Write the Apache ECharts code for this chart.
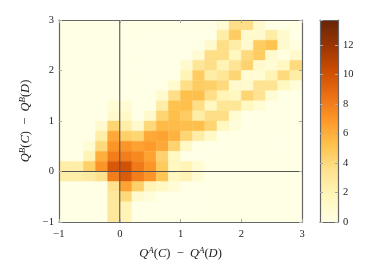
<!DOCTYPE html>
<html><head><meta charset="utf-8">
<style>html,body{margin:0;padding:0;background:#fff}#c{width:371px;height:275px}</style>
<script src="https://cdn.jsdelivr.net/npm/echarts@6/dist/echarts.min.js"></script>
</head><body><div id="c"></div>
<script>
// Lower-left corners of the bins
const xBins = [-1,-0.8,-0.6,-0.4,-0.2,0,0.2,0.4,0.6,0.8,1,1.2,1.4,1.6,1.8,2,2.2,2.4,2.6,2.8];
const yBins = [2.8,2.6,2.4,2.2,2,1.8,1.6,1.4,1.2,1,0.8,0.6,0.4,0.2,0,-0.2,-0.4,-0.6,-0.8,-1];
// One row per yBins entry, top to bottom
const counts = [
 [0,0,0,0,0,0,0,0,0,0, 0,0,0,0.8,3.7,3.7,1,0,0,0],
 [0,0,0,0,0,0,0,0,0,0, 0,0,0,2.5,4.7,1,1,2.6,1,0],
 [0,0,0,0,0,0,0,0,0,0, 0,0,1,3.7,2.6,1,4.7,5.2,1,0.3],
 [0,0,0,0,0,0,0,0,0,0, 0,0.7,3.7,3.7,1.5,3.9,4.7,1,0.2,1],
 [0,0,0,0,0,0,0,0,0,0, 1,3.2,3.7,2,3.3,4.3,1,0.7,1.5,3.9],
 [0,0,0,0,0,0,0,0,0,0, 2,4.7,2.6,3.2,4.2,0.8,0.8,2,3.9,2.6],
 [0,0,0,0,0,0,0,0,0,1, 3.7,4.7,4.5,3.9,1,1,3.4,3.4,1.5,0.6],
 [0,0,0,0,0,0,0,0,1,3.7, 5.3,5.3,3.7,2,1.5,4.2,3.4,0.8,0,0],
 [0,0,0,0,0.7,0.7,0,0,2.6,5.2, 5.3,3.7,1.5,3.2,3.2,1.5,0.7,0,0,0],
 [0,0,0,0,1,1.2,0,1,4.2,5.3, 4.7,2.6,3.7,3.7,0.7,0,0,0,0,0],
 [0,0,0,1,4.2,2.5,1,4,5.5,5.5, 5.3,5.3,4.2,1.5,0.5,0,0,0,0,0],
 [0,0,0,2.5,6.2,4.5,4.2,6.2,6.5,5.8, 4.2,2.6,1.2,0,0,0,0,0,0,0],
 [0,0,0.8,4,7,7,6.5,6.8,6.2,4.3, 1.2,0,0,0,0,0,0,0,0,0],
 [0,0,2,6,8,8,7.5,6.5,4.3,1.5, 0,0,0,0,0,0,0,0,0,0],
 [2.5,2.5,4.5,7,9.7,10,8.2,7,4.8,1.5, 2,0.7,0,0,0,0,0,0,0,0],
 [2.5,2.5,2.8,3.5,8,9.5,8,7,5,1.5, 2,0.7,0,0,0,0,0,0,0,0],
 [0,0,0,0,3.5,6.5,4.5,2,1.5,0.7, 0,0,0,0,0,0,0,0,0,0],
 [0,0,0,0,3,4,1,0.5,0,0, 0,0,0,0,0,0,0,0,0,0],
 [0,0,0,0,3,2,0,0,0,0, 0,0,0,0,0,0,0,0,0,0],
 [0,0,0,0,3,2,0,0,0,0, 0,0,0,0,0,0,0,0,0,0]
];
const binSize = 0.2;
const colorMax = 13.7;
const palette = ['#ffffe5','#fff7bc','#fee391','#fec44f','#fe9929','#ec7014','#cc4c02','#993404','#662506'];
const crossV = [[0,-1],[0,3]];
const crossH = [[-1,0],[3,0]];

const cells = [];
yBins.forEach((y,r)=>xBins.forEach((x,c)=>cells.push([x,y,counts[r][c]])));

const serif = 'Liberation Serif';
const minus = v => String(v).replace('-','\u2212');
const rich = {
  i:{fontFamily:serif,fontStyle:'italic',fontSize:12.5,color:'#222'},
  n:{fontFamily:serif,fontSize:12.5,color:'#222'},
  s:{fontFamily:serif,fontStyle:'italic',fontSize:9,color:'#222',verticalAlign:'top',lineHeight:15}
};
const nameText = k => `{i|Q}{s|${k}}{n|(}{i|C}{n|)  \u2212  }{i|Q}{s|${k}}{n|(}{i|D}{n|)}`;
const lineCol = '#666', tickCol = '#aaa';
const labelBase = {fontFamily:serif,fontSize:10.5,color:'#222',formatter:minus,hideOverlap:false};
const frameAxis = (extra) => Object.assign({
  type:'value', z:5, splitLine:{show:false},
  axisLine:{show:true,onZero:false,lineStyle:{color:lineCol,width:1.2}},
  axisTick:{show:true,inside:true,length:3,lineStyle:{color:tickCol,width:1}},
  axisLabel:Object.assign({margin:5},labelBase)
},extra);

const chart = echarts.init(document.getElementById('c'),null,{renderer:'canvas'});
chart.setOption({
  animation:false,
  backgroundColor:'#fff',
  grid:[
    {left:59,top:20,width:243,height:202},
    {left:320,top:20,width:18,height:202}
  ],
  xAxis:[
    frameAxis({gridIndex:0,min:-1,max:3,interval:1,position:'bottom',
      axisLabel:Object.assign({margin:7},labelBase),
      name:nameText('A'),nameLocation:'middle',nameGap:24,nameTextStyle:{rich}}),
    frameAxis({gridIndex:0,min:-1,max:3,interval:1,position:'top',axisLabel:{show:false}}),
    {type:'value',gridIndex:1,min:0,max:1,show:true,position:'bottom',z:5,splitLine:{show:false},
      axisLine:{show:true,onZero:false,lineStyle:{color:lineCol,width:1.2}},axisTick:{show:false},axisLabel:{show:false}},
    {type:'value',gridIndex:1,min:0,max:1,show:true,position:'top',z:5,splitLine:{show:false},
      axisLine:{show:true,onZero:false,lineStyle:{color:lineCol,width:1.2}},axisTick:{show:false},axisLabel:{show:false}}
  ],
  yAxis:[
    frameAxis({gridIndex:0,min:-1,max:3,interval:1,position:'left',
      name:nameText('B'),nameLocation:'middle',nameGap:25,nameRotate:90,nameTextStyle:{rich}}),
    frameAxis({gridIndex:0,min:-1,max:3,interval:1,position:'right',axisLabel:{show:false}}),
    frameAxis({gridIndex:1,min:0,max:colorMax,interval:2,position:'left',axisLabel:{show:false}}),
    frameAxis({gridIndex:1,min:0,max:colorMax,interval:2,position:'right',
      axisLabel:{fontFamily:serif,fontSize:10.5,color:'#222',margin:5,showMaxLabel:false}})
  ],
  visualMap:{show:false,type:'continuous',seriesIndex:0,dimension:2,min:0,max:colorMax,inRange:{color:palette}},
  series:[
    {type:'custom',xAxisIndex:0,yAxisIndex:0,data:cells,encode:{x:0,y:1},z:1,silent:true,
     renderItem(params,api){
       const a=api.coord([api.value(0),api.value(1)+binSize]);
       const b=api.coord([api.value(0)+binSize,api.value(1)]);
       const col=api.visual('color');
       return {type:'rect',shape:{x:a[0],y:a[1],width:b[0]-a[0],height:b[1]-a[1]},
         style:{fill:col,stroke:col,lineWidth:0.4}};
     }},
    {type:'custom',xAxisIndex:2,yAxisIndex:2,data:[[0,colorMax]],encode:{y:1},z:1,silent:true,
     renderItem(params,api){
       const a=api.coord([0,api.value(1)]);
       const b=api.coord([1,0]);
       const stops=palette.map((c,i)=>({offset:i/(palette.length-1),color:c}));
       return {type:'rect',shape:{x:a[0],y:a[1],width:b[0]-a[0],height:b[1]-a[1]},
         style:{fill:new echarts.graphic.LinearGradient(0,1,0,0,stops)}};
     }},
    {type:'line',xAxisIndex:0,yAxisIndex:0,data:crossV,showSymbol:false,z:4,silent:true,
     lineStyle:{color:'#555',width:1.1}},
    {type:'line',xAxisIndex:0,yAxisIndex:0,data:crossH,showSymbol:false,z:4,silent:true,
     lineStyle:{color:'#555',width:1.1}}
  ]
});
</script></body></html>
